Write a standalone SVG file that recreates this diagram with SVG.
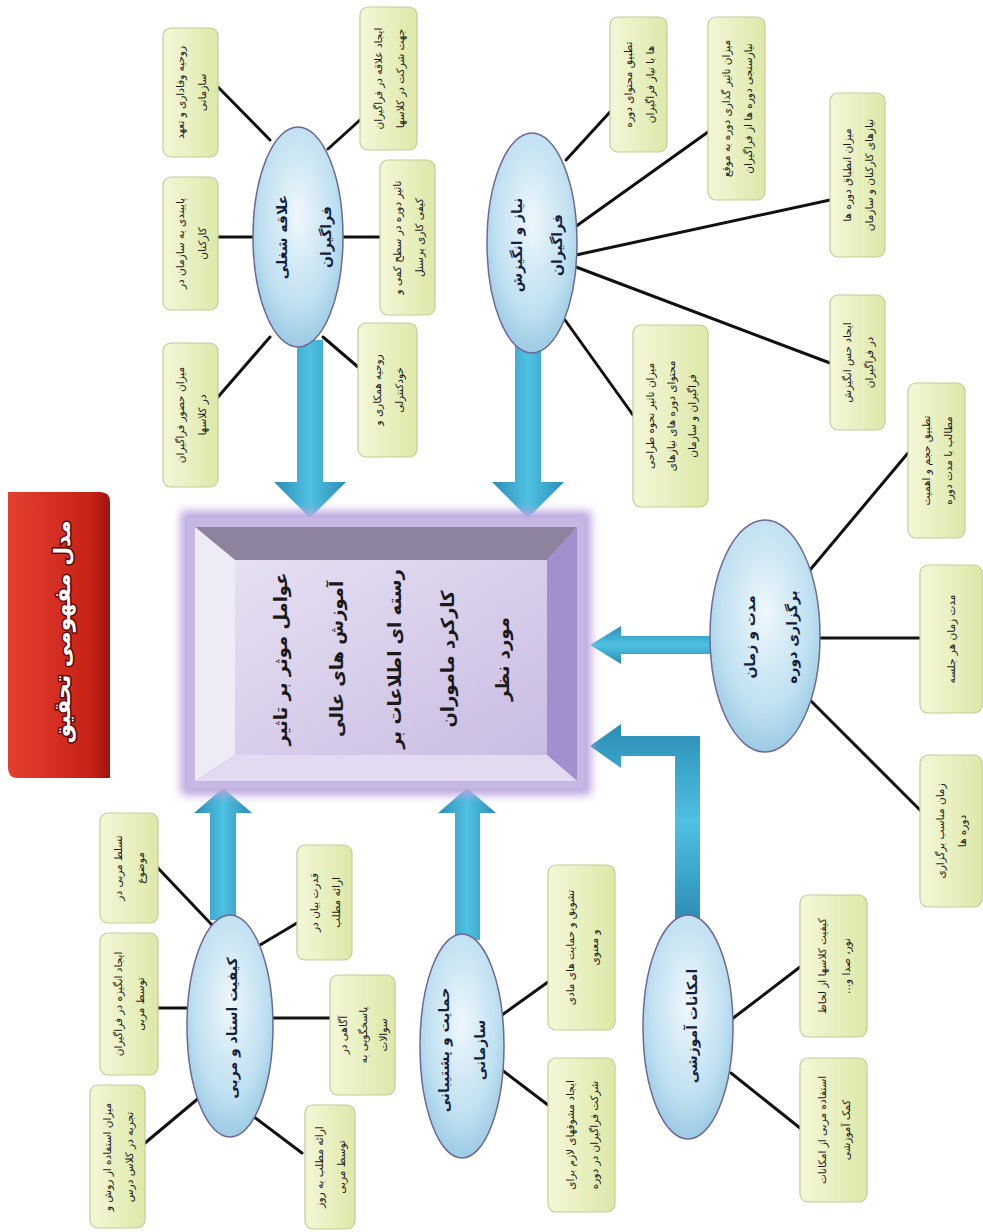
<svg xmlns="http://www.w3.org/2000/svg" width="983" height="1232" viewBox="0 0 983 1232">
<defs>
<linearGradient id="gBox" x1="0" y1="0" x2="1" y2="0"><stop offset="0" stop-color="#f4f7d8"/><stop offset="1" stop-color="#dde8a8"/></linearGradient>
<radialGradient id="gEll" cx="0.5" cy="0.4" r="0.6"><stop offset="0" stop-color="#eef7fc"/><stop offset="0.7" stop-color="#bfe0f1"/><stop offset="1" stop-color="#9ccbe4"/></radialGradient>
<linearGradient id="gArrV" x1="0" y1="0" x2="1" y2="0"><stop offset="0" stop-color="#2b8db6"/><stop offset="0.5" stop-color="#4fc1e2"/><stop offset="1" stop-color="#2b8db6"/></linearGradient>
<linearGradient id="gArrH" x1="0" y1="0" x2="0" y2="1"><stop offset="0" stop-color="#2b8db6"/><stop offset="0.5" stop-color="#4fc1e2"/><stop offset="1" stop-color="#2b8db6"/></linearGradient>
<linearGradient id="gTitle" x1="0" y1="0" x2="1" y2="0"><stop offset="0" stop-color="#e4402f"/><stop offset="0.8" stop-color="#c82218"/><stop offset="1" stop-color="#9e140e"/></linearGradient>
<linearGradient id="gInner" x1="0" y1="0" x2="1" y2="1"><stop offset="0" stop-color="#e6e0f2"/><stop offset="1" stop-color="#c9bce2"/></linearGradient>
<filter id="glow" x="-10%" y="-10%" width="120%" height="120%"><feGaussianBlur stdDeviation="5"/></filter>
<style>
.box{fill:url(#gBox);stroke:#c5cc98;stroke-width:1.2}
.ell{fill:url(#gEll);stroke:#6f6798;stroke-width:1.5}
.conn{stroke:#111;stroke-width:3;fill:none;stroke-linecap:round}
.av{fill:url(#gArrV)}
.ah{fill:url(#gArrH)}
text{font-family:"DejaVu Sans",sans-serif;text-anchor:middle;dominant-baseline:central;fill:#1a1a1a;direction:rtl;unicode-bidi:embed}
.bt{font-size:10.5px}
.et{font-size:14px;font-weight:bold;fill:#14203a}
.ct{font-size:18px;font-weight:bold}
.tt{font-size:22px;font-weight:bold;fill:#fff;stroke:#5a0a06;stroke-width:3;paint-order:stroke}
</style>
</defs>
<rect width="983" height="1232" fill="#fff"/>

<g id="connectors">
<line class="conn" x1="218" y1="87" x2="270" y2="140"/>
<line class="conn" x1="218" y1="237" x2="256" y2="237"/>
<line class="conn" x1="218" y1="397" x2="270" y2="337"/>
<line class="conn" x1="328" y1="149" x2="360" y2="120"/>
<line class="conn" x1="340" y1="237" x2="380" y2="237"/>
<line class="conn" x1="323" y1="337" x2="358" y2="367"/>
<line class="conn" x1="566" y1="160" x2="610" y2="112"/>
<line class="conn" x1="575" y1="227" x2="708" y2="132"/>
<line class="conn" x1="576" y1="255" x2="830" y2="200"/>
<line class="conn" x1="576" y1="267" x2="830" y2="363"/>
<line class="conn" x1="565" y1="320" x2="633" y2="415"/>
<line class="conn" x1="810" y1="570" x2="908" y2="453"/>
<line class="conn" x1="818" y1="638" x2="920" y2="638"/>
<line class="conn" x1="810" y1="700" x2="920" y2="810"/>
<line class="conn" x1="157" y1="867" x2="212" y2="925"/>
<line class="conn" x1="158" y1="1008" x2="190" y2="1008"/>
<line class="conn" x1="145" y1="1143" x2="200" y2="1097"/>
<line class="conn" x1="260" y1="945" x2="297" y2="923"/>
<line class="conn" x1="270" y1="1018" x2="330" y2="1018"/>
<line class="conn" x1="253" y1="1116" x2="302" y2="1153"/>
<line class="conn" x1="502" y1="1015" x2="548" y2="982"/>
<line class="conn" x1="502" y1="1070" x2="548" y2="1105"/>
<line class="conn" x1="732" y1="1019" x2="800" y2="967"/>
<line class="conn" x1="731" y1="1073" x2="800" y2="1128"/>
<path class="av" d="M297,340 L323,340 L323,482 L346,482 L310,518 L274,482 L297,482 Z"/>
<path class="av" d="M515,345 L541,345 L541,482 L564,482 L528,518 L492,482 L515,482 Z"/>
<path class="av" d="M210,920 L236,920 L236,813 L252,813 L223,788 L194,813 L210,813 Z"/>
<path class="av" d="M455,940 L480,940 L480,813 L496,813 L467,788 L438,813 L455,813 Z"/>
<path class="ah" d="M714,636 L714,654 L621,654 L621,664 L590,645 L621,626 L621,636 Z"/>
<path class="ah" d="M675,920 L700,920 L700,736 L621,736 L621,724 L590,746 L621,768 L621,756 L675,756 Z"/>
</g>

<g id="title">
<path d="M8,492 L100,492 Q110,492 110,502 L110,778 L18,778 Q8,778 8,768 Z" fill="url(#gTitle)"/>
<text class="tt" transform="translate(62,632) rotate(-90)">مدل مفهومی تحقیق</text>
</g>

<g id="center">
<rect x="181" y="511" width="410" height="284" fill="#b9a3df" filter="url(#glow)"/>
<rect x="187" y="517" width="398" height="272" fill="#c6b6e4"/>
<polygon points="195,527 577,527 547,560 235,560" fill="#8d839f"/>
<polygon points="195,527 235,560 235,755 195,781" fill="#efebf6"/>
<polygon points="577,527 577,781 547,755 547,560" fill="#a38fcd"/>
<polygon points="195,781 577,781 547,755 235,755" fill="#e2daf0"/>
<rect x="235" y="560" width="312" height="195" fill="url(#gInner)"/>
<g transform="translate(391,659) rotate(-90)">
<text class="ct" y="-111">عوامل موثر بر تاثیر</text>
<text class="ct" y="-55">آموزش های عالی</text>
<text class="ct" y="3">رسته ای اطلاعات بر</text>
<text class="ct" y="56">کارکرد ماموران</text>
<text class="ct" y="111">مورد نظر</text>
</g>
</g>

<g id="e1">
<ellipse class="ell" cx="298" cy="237" rx="45" ry="110"/>
<g transform="translate(304,237) rotate(-90)"><text class="et" y="-22">علاقه شغلی</text><text class="et" y="22">فراگیران</text></g>
</g>
<g id="e2">
<ellipse class="ell" cx="532" cy="243" rx="45" ry="110"/>
<g transform="translate(537,245) rotate(-90)"><text class="et" y="-20">نیاز و انگیزش</text><text class="et" y="20">فراگیران</text></g>
</g>
<g id="e3">
<ellipse class="ell" cx="765" cy="636" rx="55" ry="116"/>
<g transform="translate(771,637) rotate(-90)"><text class="et" y="-21">مدت و زمان</text><text class="et" y="21">برگزاری دوره</text></g>
</g>
<g id="e4">
<ellipse class="ell" cx="230" cy="1026" rx="43" ry="111"/>
<g transform="translate(232,1028) rotate(-90)"><text class="et">کیفیت استاد و مربی</text></g>
</g>
<g id="e6">
<ellipse class="ell" cx="462" cy="1046" rx="42" ry="112"/>
<g transform="translate(462,1050) rotate(-90)"><text class="et" y="-18">حمایت و پشتیبانی</text><text class="et" y="18">سازمانی</text></g>
</g>
<g id="e5">
<ellipse class="ell" cx="688" cy="1027" rx="45" ry="112"/>
<g transform="translate(692,1026) rotate(-90)"><text class="et">امکانات آموزشی</text></g>
</g>

<g id="b1a"><rect class="box" x="163" y="28" width="55" height="129" rx="8"/><g transform="translate(190.5,92.5) rotate(-90)"><text class="bt" y="-11">روحیه وفاداری و تعهد</text><text class="bt" y="11">سازمانی</text></g></g>
<g id="b1b"><rect class="box" x="163" y="177" width="55" height="133" rx="8"/><g transform="translate(190.5,243.5) rotate(-90)"><text class="bt" y="-11">پایبندی به سازمان در</text><text class="bt" y="11">کارکنان</text></g></g>
<g id="b1c"><rect class="box" x="163" y="343" width="55" height="144" rx="8"/><g transform="translate(190.5,415) rotate(-90)"><text class="bt" y="-11">میزان حضور فراگیران</text><text class="bt" y="11">در کلاسها</text></g></g>
<g id="b1d"><rect class="box" x="360" y="7" width="57" height="143" rx="8"/><g transform="translate(388.5,78.5) rotate(-90)"><text class="bt" y="-11">ایجاد علاقه در فراگیران</text><text class="bt" y="11">جهت شرکت در کلاسها</text></g></g>
<g id="b1e"><rect class="box" x="380" y="160" width="55" height="155" rx="8"/><g transform="translate(407.5,237.5) rotate(-90)"><text class="bt" y="-11">تاثیر دوره در سطح کمی و</text><text class="bt" y="11">کیفی کاری پرسنل</text></g></g>
<g id="b1f"><rect class="box" x="358" y="323" width="59" height="134" rx="8"/><g transform="translate(387.5,390) rotate(-90)"><text class="bt" y="-11">روحیه همکاری و</text><text class="bt" y="11">خودکنترلی</text></g></g>

<g id="b2a"><rect class="box" x="610" y="17" width="57" height="135" rx="8"/><g transform="translate(638.5,84.5) rotate(-90)"><text class="bt" y="-11">تطبیق محتوای دوره</text><text class="bt" y="11">ها با نیاز فراگیران</text></g></g>
<g id="b2b"><rect class="box" x="708" y="17" width="57" height="183" rx="8"/><g transform="translate(736.5,108.5) rotate(-90)"><text class="bt" y="-11">میزان تاثیر گذاری دوره به موقع</text><text class="bt" y="11">نیازسنجی دوره ها از فراگیران</text></g></g>
<g id="b2c"><rect class="box" x="830" y="93" width="55" height="164" rx="8"/><g transform="translate(857.5,175) rotate(-90)"><text class="bt" y="-11">میزان انطباق دوره ها</text><text class="bt" y="11">نیازهای کارکنان و سازمان</text></g></g>
<g id="b2d"><rect class="box" x="830" y="295" width="55" height="135" rx="8"/><g transform="translate(857.5,362.5) rotate(-90)"><text class="bt" y="-11">ایجاد حس انگیزش</text><text class="bt" y="11">در فراگیران</text></g></g>
<g id="b2e"><rect class="box" x="633" y="325" width="75" height="182" rx="8"/><g transform="translate(670.5,416) rotate(-90)"><text class="bt" y="-21">میزان تاثیر نحوه طراحی</text><text class="bt" y="0">محتوای دوره های نیازهای</text><text class="bt" y="21">فراگیران و سازمان</text></g></g>

<g id="b3a"><rect class="box" x="908" y="383" width="57" height="155" rx="8"/><g transform="translate(936.5,460.5) rotate(-90)"><text class="bt" y="-11">تطبیق حجم و اهمیت</text><text class="bt" y="11">مطالب با مدت دوره</text></g></g>
<g id="b3b"><rect class="box" x="920" y="565" width="62" height="148" rx="8"/><g transform="translate(951,639) rotate(-90)"><text class="bt">مدت زمان هر جلسه</text></g></g>
<g id="b3c"><rect class="box" x="920" y="755" width="62" height="152" rx="8"/><g transform="translate(951,831) rotate(-90)"><text class="bt" y="-11">زمان مناسب برگزاری</text><text class="bt" y="11">دوره ها</text></g></g>

<g id="b4a"><rect class="box" x="100" y="813" width="58" height="110" rx="8"/><g transform="translate(129,868) rotate(-90)"><text class="bt" y="-11">تسلط مربی در</text><text class="bt" y="11">موضوع</text></g></g>
<g id="b4b"><rect class="box" x="100" y="933" width="58" height="142" rx="8"/><g transform="translate(129,1004) rotate(-90)"><text class="bt" y="-11">ایجاد انگیزه در فراگیران</text><text class="bt" y="11">توسط مربی</text></g></g>
<g id="b4c"><rect class="box" x="90" y="1085" width="55" height="143" rx="8"/><g transform="translate(117.5,1157) rotate(-90)"><text class="bt" y="-11">میزان استفاده از روش و</text><text class="bt" y="11">تجربه در کلاس درس</text></g></g>
<g id="b4d"><rect class="box" x="297" y="845" width="55" height="115" rx="8"/><g transform="translate(324.5,902.5) rotate(-90)"><text class="bt" y="-11">قدرت بیان در</text><text class="bt" y="11">ارائه مطلب</text></g></g>
<g id="b4e"><rect class="box" x="330" y="975" width="65" height="120" rx="8"/><g transform="translate(362.5,1035) rotate(-90)"><text class="bt" y="-20">آگاهی در</text><text class="bt" y="0">پاسخگویی به</text><text class="bt" y="20">سوالات</text></g></g>
<g id="b4f"><rect class="box" x="305" y="1105" width="50" height="124" rx="8"/><g transform="translate(330,1167) rotate(-90)"><text class="bt" y="-11">ارائه مطلب به روز</text><text class="bt" y="11">توسط مربی</text></g></g>

<g id="b6a"><rect class="box" x="548" y="865" width="67" height="165" rx="8"/><g transform="translate(581.5,947.5) rotate(-90)"><text class="bt" y="-12">تشویق و حمایت های مادی</text><text class="bt" y="12">و معنوی</text></g></g>
<g id="b6b"><rect class="box" x="548" y="1058" width="67" height="154" rx="8"/><g transform="translate(581.5,1135) rotate(-90)"><text class="bt" y="-12">ایجاد مشوقهای لازم برای</text><text class="bt" y="12">شرکت فراگیران در دوره</text></g></g>

<g id="b5a"><rect class="box" x="800" y="895" width="67" height="142" rx="8"/><g transform="translate(833.5,966) rotate(-90)"><text class="bt" y="-12">کیفیت کلاسها از لحاظ</text><text class="bt" y="12">نور، صدا و...</text></g></g>
<g id="b5b"><rect class="box" x="800" y="1058" width="67" height="144" rx="8"/><g transform="translate(833.5,1130) rotate(-90)"><text class="bt" y="-12">استفاده مربی از امکانات</text><text class="bt" y="12">کمک آموزشی</text></g></g>
</svg>
